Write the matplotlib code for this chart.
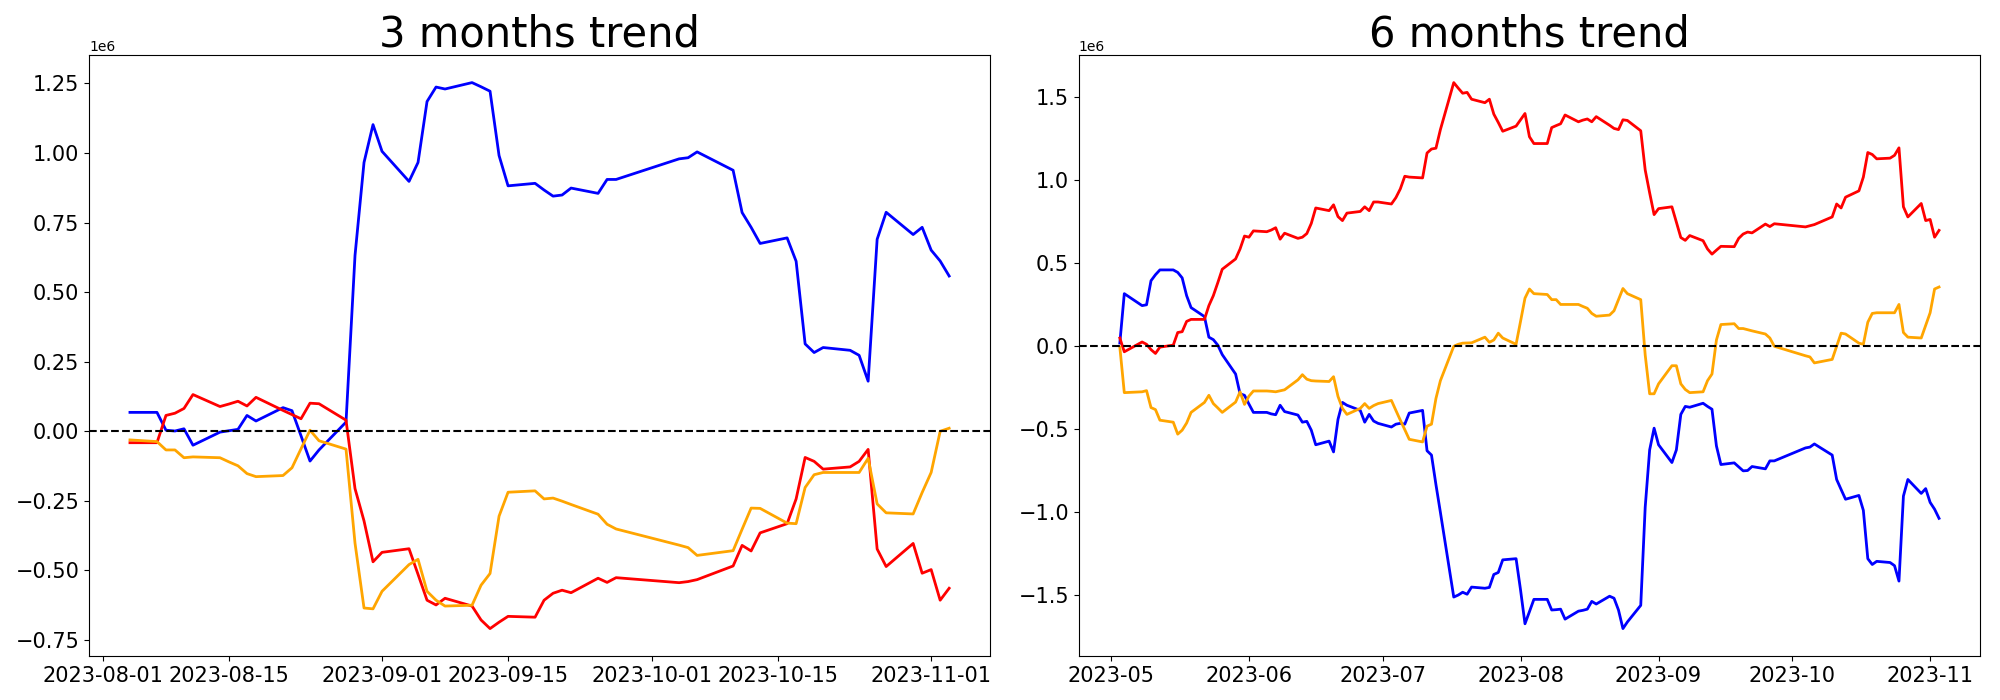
import matplotlib
matplotlib.use("Agg")
import matplotlib.pyplot as plt
import pandas as pd

# ---------------- 3 months data ----------------
dates_3m = (
    ["2023-08-%02d" % d for d in [4, 7, 8, 9, 10, 11, 14, 15, 16, 17, 18, 21, 22, 23, 24, 25, 28, 29, 30, 31]]
    + ["2023-09-%02d" % d for d in [1, 4, 5, 6, 7, 8, 11, 12, 13, 14, 15, 18, 19, 20, 21, 22, 25, 26, 27]]
    + ["2023-10-%02d" % d for d in [4, 5, 6, 10, 11, 12, 13, 16, 17, 18, 19, 20, 23, 24, 25, 26, 27, 30, 31]]
    + ["2023-11-%02d" % d for d in [1, 2, 3]]
)

blue_3m = [0.068, 0.068, 0.004, 0.001, 0.009, -0.050, -0.003, 0.002, 0.007, 0.057, 0.037, 0.085, 0.074, -0.016, -0.107, -0.067, 0.033, 0.632, 0.966, 1.102,
           1.006, 0.898, 0.966, 1.185, 1.237, 1.230, 1.253, 1.238, 1.222, 0.991, 0.882, 0.891, 0.867, 0.845, 0.849, 0.874, 0.855, 0.905, 0.905,
           0.979, 0.983, 1.004, 0.938, 0.786, 0.733, 0.675, 0.695, 0.611, 0.314, 0.283, 0.301, 0.291, 0.273, 0.180, 0.690, 0.787, 0.707, 0.733,
           0.651, 0.612, 0.558]

red_3m = [-0.041, -0.041, 0.057, 0.065, 0.082, 0.132, 0.089, 0.098, 0.108, 0.091, 0.122, 0.075, 0.060, 0.045, 0.101, 0.099, 0.040, -0.206, -0.322, -0.469,
          -0.435, -0.422, -0.514, -0.607, -0.624, -0.600, -0.628, -0.678, -0.709, -0.686, -0.665, -0.668, -0.607, -0.582, -0.571, -0.580, -0.528, -0.543, -0.526,
          -0.544, -0.540, -0.533, -0.484, -0.410, -0.430, -0.365, -0.332, -0.243, -0.094, -0.108, -0.136, -0.128, -0.108, -0.065, -0.423, -0.486, -0.403, -0.510,
          -0.497, -0.607, -0.564]

orange_3m = [-0.031, -0.037, -0.067, -0.067, -0.095, -0.092, -0.095, -0.110, -0.124, -0.152, -0.163, -0.159, -0.131, -0.063, 0.004, -0.034, -0.064, -0.402, -0.635, -0.638,
             -0.575, -0.479, -0.460, -0.575, -0.607, -0.628, -0.625, -0.553, -0.511, -0.305, -0.219, -0.214, -0.243, -0.240, -0.251, -0.263, -0.298, -0.334, -0.351,
             -0.409, -0.418, -0.446, -0.429, -0.352, -0.276, -0.277, -0.330, -0.332, -0.202, -0.156, -0.148, -0.148, -0.148, -0.097, -0.261, -0.293, -0.297, -0.220,
             -0.148, 0.000, 0.011]

# ---------------- 6 months data ----------------
dates_6m = (
    ["2023-05-%02d" % d for d in [3, 4, 8, 9, 10, 11, 12, 15, 16, 17, 18, 19, 22, 23, 24, 25, 26, 29, 30, 31]]
    + ["2023-06-%02d" % d for d in [1, 2, 5, 6, 7, 8, 9, 12, 13, 14, 15, 16, 19, 20, 21, 22, 23, 26, 27, 28, 29, 30]]
    + ["2023-07-%02d" % d for d in [3, 4, 5, 6, 7, 10, 11, 12, 13, 14, 17, 18, 19, 20, 21, 24, 25, 26, 27, 28, 31]]
    + ["2023-08-%02d" % d for d in [1, 2, 3, 4, 7, 8, 9, 10, 11, 14, 15, 16, 17, 18, 21, 22, 23, 24, 25, 28, 29, 30, 31]]
    + ["2023-09-%02d" % d for d in [1, 4, 5, 6, 7, 8, 11, 12, 13, 14, 15, 18, 19, 20, 21, 22, 25, 26, 27]]
    + ["2023-10-%02d" % d for d in [4, 5, 6, 10, 11, 12, 13, 16, 17, 18, 19, 20, 23, 24, 25, 26, 27, 30, 31]]
    + ["2023-11-%02d" % d for d in [1, 2, 3]]
)

red_6m = [0.050, -0.033, 0.026, 0.012, -0.020, -0.043, -0.005, 0.007, 0.083, 0.088, 0.150, 0.162, 0.162, 0.245, 0.305, 0.383, 0.464, 0.526, 0.586, 0.664,
          0.657, 0.695, 0.690, 0.700, 0.714, 0.645, 0.681, 0.650, 0.657, 0.679, 0.740, 0.833, 0.817, 0.852, 0.781, 0.757, 0.802, 0.812, 0.840, 0.817, 0.869, 0.869,
          0.857, 0.895, 0.948, 1.024, 1.019, 1.014, 1.164, 1.188, 1.193, 1.305, 1.588, 1.555, 1.524, 1.529, 1.488, 1.467, 1.488, 1.398, 1.348, 1.295, 1.326,
          1.364, 1.402, 1.262, 1.221, 1.221, 1.317, 1.329, 1.340, 1.393, 1.352, 1.362, 1.369, 1.352, 1.383, 1.331, 1.312, 1.305, 1.364, 1.360, 1.298, 1.062, 0.924, 0.793,
          0.829, 0.840, 0.748, 0.655, 0.638, 0.667, 0.636, 0.586, 0.555, 0.579, 0.602, 0.600, 0.650, 0.676, 0.688, 0.683, 0.736, 0.721, 0.738,
          0.719, 0.726, 0.733, 0.779, 0.857, 0.833, 0.898, 0.936, 1.019, 1.167, 1.155, 1.129, 1.133, 1.150, 1.195, 0.840, 0.779, 0.860, 0.757,
          0.764, 0.657, 0.698]

blue_6m = [0.020, 0.317, 0.245, 0.250, 0.395, 0.431, 0.460, 0.460, 0.445, 0.412, 0.305, 0.233, 0.179, 0.055, 0.040, 0.007, -0.050, -0.167, -0.286, -0.295,
           -0.348, -0.398, -0.398, -0.407, -0.412, -0.355, -0.393, -0.414, -0.457, -0.452, -0.505, -0.593, -0.571, -0.636, -0.440, -0.338, -0.355, -0.386, -0.457, -0.410, -0.450, -0.464,
           -0.486, -0.469, -0.464, -0.469, -0.402, -0.386, -0.629, -0.655, -0.833, -1.000, -1.510, -1.498, -1.481, -1.493, -1.450, -1.457, -1.452, -1.374, -1.362, -1.286, -1.279,
           -1.467, -1.671, -1.598, -1.524, -1.524, -1.588, -1.586, -1.583, -1.643, -1.595, -1.590, -1.583, -1.536, -1.552, -1.505, -1.517, -1.588, -1.700, -1.660, -1.560, -0.969, -0.624, -0.493,
           -0.593, -0.700, -0.624, -0.410, -0.362, -0.367, -0.343, -0.362, -0.379, -0.600, -0.712, -0.702, -0.726, -0.750, -0.748, -0.724, -0.738, -0.690, -0.690,
           -0.612, -0.607, -0.588, -0.655, -0.802, -0.862, -0.921, -0.898, -0.988, -1.279, -1.314, -1.295, -1.302, -1.321, -1.414, -0.902, -0.802, -0.886, -0.857,
           -0.940, -0.981, -1.036]

orange_6m = [-0.005, -0.279, -0.274, -0.267, -0.369, -0.381, -0.445, -0.457, -0.529, -0.505, -0.462, -0.398, -0.338, -0.295, -0.345, -0.371, -0.398, -0.336, -0.274, -0.350,
             -0.300, -0.269, -0.269, -0.271, -0.274, -0.268, -0.262, -0.202, -0.171, -0.198, -0.207, -0.209, -0.212, -0.183, -0.302, -0.374, -0.410, -0.374, -0.345, -0.374, -0.357, -0.345,
             -0.326, -0.386, -0.445, -0.502, -0.560, -0.576, -0.481, -0.469, -0.314, -0.207, 0.000, 0.012, 0.019, 0.020, 0.021, 0.055, 0.024, 0.038, 0.079, 0.050, 0.012,
             0.150, 0.290, 0.345, 0.317, 0.312, 0.281, 0.281, 0.252, 0.252, 0.252, 0.240, 0.229, 0.198, 0.181, 0.188, 0.214, 0.281, 0.348, 0.317, 0.281, -0.052, -0.286, -0.286,
             -0.226, -0.117, -0.117, -0.226, -0.260, -0.279, -0.274, -0.207, -0.167, 0.038, 0.131, 0.136, 0.107, 0.107, 0.100, 0.093, 0.074, 0.050, 0.000,
             -0.057, -0.064, -0.100, -0.079, 0.000, 0.079, 0.074, 0.019, 0.012, 0.145, 0.198, 0.202, 0.202, 0.202, 0.252, 0.083, 0.055, 0.050, 0.126,
             0.202, 0.345, 0.357]

titles = ["3 months trend", "6 months trend"]
SCALE = 1e6

fig, axes = plt.subplots(1, 2, figsize=(20, 7), dpi=100)
fig.subplots_adjust(left=0.0445, right=0.99, bottom=0.063, top=0.921, wspace=0.0985)

panels = [
    (dates_3m, blue_3m, red_3m, orange_3m),
    (dates_6m, blue_6m, red_6m, orange_6m),
]

for ax, (dts, b, r, o), title in zip(axes, panels, titles):
    x = pd.to_datetime(dts)
    ax.plot(x, [v * SCALE for v in b], color="blue", linewidth=2)
    ax.plot(x, [v * SCALE for v in r], color="red", linewidth=2)
    ax.plot(x, [v * SCALE for v in o], color="orange", linewidth=2)
    ax.axhline(0, color="black", linestyle="--", linewidth=1.5)
    ax.set_title(title, fontsize=30)
    ax.tick_params(labelsize=15)

fig.savefig("out.png", dpi=100)
